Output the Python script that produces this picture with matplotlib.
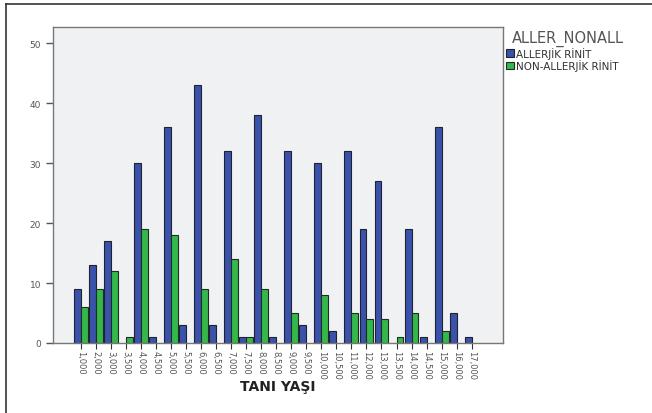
import numpy as np
import matplotlib.pyplot as plt
from matplotlib.lines import Line2D

# age at diagnosis categories (SPSS style labels)
ages = ["1,000", "2,000", "3,000", "3,500", "4,000", "4,500", "5,000", "5,500",
        "6,000", "6,500", "7,000", "7,500", "8,000", "8,500", "9,000", "9,500",
        "10,000", "10,500", "11,000", "12,000", "13,000", "13,500", "14,000",
        "14,500", "15,000", "16,000", "17,000"]

# counts per group
allerjik = [9, 13, 17, 0, 30, 1, 36, 3, 43, 3, 32, 1, 38, 1, 32, 3,
            30, 2, 32, 19, 27, 0, 19, 1, 36, 5, 1]
non_allerjik = [6, 9, 12, 1, 19, 0, 18, 0, 9, 0, 14, 1, 9, 0, 5, 0,
                8, 0, 5, 4, 4, 1, 5, 0, 2, 0, 0]

blue = "#3b52aa"
green = "#34b84a"
grey = "#555555"

fig = plt.figure(figsize=(6.52, 4.14), dpi=100)
ax = fig.add_axes([53 / 652, 1 - 344 / 414, 450 / 652, 316 / 414])
ax.set_facecolor("#f0f1f3")

x = np.arange(len(ages))
w = 0.46

a = np.array(allerjik, dtype=float)
n = np.array(non_allerjik, dtype=float)

# skip the empty slots, SPSS leaves them blank
ma = a > 0
mn = n > 0
ax.bar(x[ma] - w / 2, a[ma], width=w, color=blue, edgecolor="#1e2233",
       linewidth=0.8, label="ALLERJİK RİNİT")
ax.bar(x[mn] + w / 2, n[mn], width=w, color=green, edgecolor="#1e2e22",
       linewidth=0.8, label="NON-ALLERJİK RİNİT")

ax.set_xlim(-1.84, len(ages) + 1.08)
ax.set_ylim(0, 52.7)
ax.set_yticks([0, 10, 20, 30, 40, 50])
ax.set_xticks(x)
ax.set_xticklabels(ages, rotation=-90, fontsize=6, color=grey)
ax.tick_params(axis="y", labelsize=6.5, labelcolor=grey, length=5,
               color=grey, width=1)
ax.tick_params(axis="x", length=4, color="#333333", width=0.8, pad=1)

for s in ax.spines.values():
    s.set_color("#777777")
    s.set_linewidth(1.0)

ax.set_xlabel("TANI YAŞI", fontsize=10, fontweight="bold", color="#222222",
              labelpad=0)

leg = ax.legend(loc="upper left", bbox_to_anchor=(506 / 652, 1 - 31 / 414),
                bbox_transform=fig.transFigure, frameon=False,
                title="ALLER_NONALL", fontsize=7.5, title_fontsize=10.5,
                handlelength=0.75, handleheight=0.75, handletextpad=0.2,
                borderpad=0, borderaxespad=0, labelspacing=0.05)
leg._legend_box.align = "left"
leg.get_title().set_color(grey)
leg.get_title().set_position((6, 0))
for t in leg.get_texts():
    t.set_color("#333333")

# outer frame of the original image (top and left edges only)
fig.add_artist(Line2D([6 / 652, 6 / 652], [0, 1 - 5 / 414],
                      transform=fig.transFigure, color="#333333", lw=1.2))
fig.add_artist(Line2D([6 / 652, 1], [1 - 5 / 414, 1 - 5 / 414],
                      transform=fig.transFigure, color="#333333", lw=1.2))

plt.savefig("out.png", dpi=100)
